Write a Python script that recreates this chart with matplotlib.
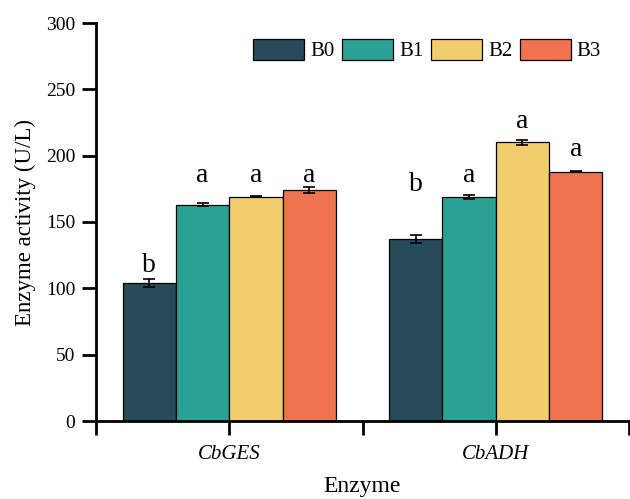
import numpy as np
import matplotlib
matplotlib.use('Agg')
import matplotlib.pyplot as plt

# 폰트 설정 (Times 계열)
plt.rcParams['font.family'] = ['Liberation Serif', 'DejaVu Serif']

# 데이터
enzymes = ['CbGES', 'CbADH']
groups = ['B0', 'B1', 'B2', 'B3']
colors = ['#284b5a', '#2aa193', '#f2cd6e', '#f07350']

b0 = [104, 137]
b1 = [163, 169]
b2 = [169, 210]
b3 = [174, 188]
b0_err = [3, 3]
b1_err = [1, 1.5]
b2_err = [0.5, 2]
b3_err = [2.5, 0.5]

# 유의성 문자 및 높이
b0_sig = ['b', 'b']
b1_sig = ['a', 'a']
b2_sig = ['a', 'a']
b3_sig = ['a', 'a']
b0_sig_y = [112, 173]
b1_sig_y = [180, 180]
b2_sig_y = [180, 221]
b3_sig_y = [180, 200]

values = [b0, b1, b2, b3]
errors = [b0_err, b1_err, b2_err, b3_err]
sigs = [b0_sig, b1_sig, b2_sig, b3_sig]
sig_ys = [b0_sig_y, b1_sig_y, b2_sig_y, b3_sig_y]

fig = plt.figure(figsize=(6.3, 4.99), dpi=100)
ax = fig.add_axes([96/630, 1-421/499, (629-96)/630, (421-23)/499])

x = np.arange(len(enzymes))
w = 0.2
for i, g in enumerate(groups):
    pos = x + (i - 1.5) * w
    ax.bar(pos, values[i], w, color=colors[i], edgecolor='black', linewidth=0.9,
           label=g, yerr=errors[i], capsize=4.5,
           error_kw=dict(elinewidth=1.2, capthick=1.2, ecolor='black'))
    for j in range(len(enzymes)):
        ax.text(pos[j], sig_ys[i][j], sigs[i][j], ha='center', va='baseline', fontsize=20)

ax.set_xlim(-0.5, 1.5)
ax.set_ylim(0, 300)
ax.set_yticks(range(0, 301, 50))
ax.set_xticks([-0.5, 0, 0.5, 1, 1.5])
ax.set_xticklabels(['', 'CbGES', '', 'CbADH', ''], fontstyle='italic', fontsize=15)
ax.tick_params(axis='y', labelsize=14, length=10, width=2, pad=5)
ax.tick_params(axis='x', length=10, width=2, pad=7)

for s in ['top', 'right']:
    ax.spines[s].set_visible(False)
for s in ['left', 'bottom']:
    ax.spines[s].set_linewidth(2)

ax.set_ylabel('Enzyme activity (U/L)', fontsize=16.5, labelpad=7)
ax.set_xlabel('Enzyme', fontsize=17, labelpad=9)

fig.legend(loc='center left', bbox_to_anchor=(253/630, 1-50/499), ncol=4, frameon=False,
           fontsize=15, handlelength=2.45, handleheight=1.2, handletextpad=0.3,
           columnspacing=0.35, borderpad=0, borderaxespad=0)

fig.savefig('out.png', dpi=100)
